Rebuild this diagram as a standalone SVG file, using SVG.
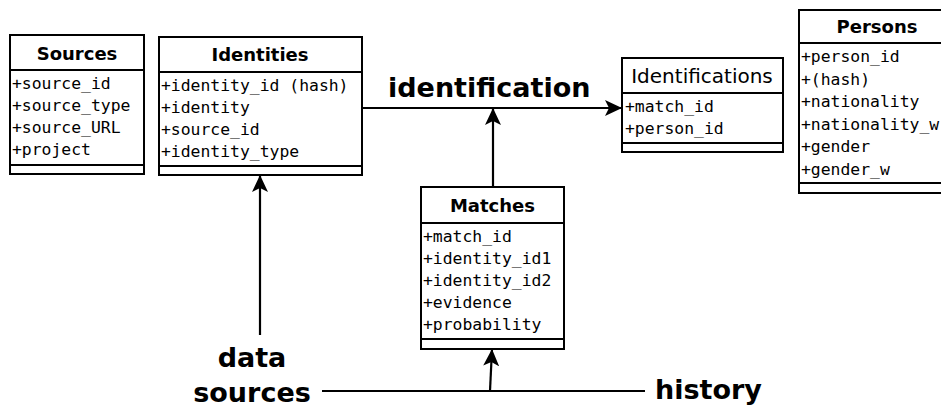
<svg xmlns="http://www.w3.org/2000/svg" width="941" height="408" viewBox="0 0 941 408">
<defs>
<style>
.box{fill:#fff;stroke:#000;stroke-width:2}
.sep{stroke:#000;stroke-width:2}
.t{font-family:"DejaVu Sans",sans-serif;font-size:18px;font-weight:bold;text-anchor:middle;fill:#000}
.tn{font-family:"DejaVu Sans",sans-serif;font-size:20px;text-anchor:middle;fill:#000}
.f{font-family:"DejaVu Sans Mono",monospace;font-size:16.4px;fill:#000}
.lbl{font-family:"DejaVu Sans",sans-serif;font-weight:bold;font-size:27px;fill:#000}
.c{stroke:#000;stroke-width:2.2;fill:none}
</style>
<marker id="ah" viewBox="0 0 18 18" refX="17" refY="9" markerWidth="18" markerHeight="18" markerUnits="userSpaceOnUse" orient="auto">
<path d="M17,9 L0,1 L4,9 L0,17 Z" fill="#000"/>
</marker>
</defs>
<g id="sources">
<rect class="box" x="10" y="35" width="134" height="139"/>
<line class="sep" x1="10" y1="70" x2="144" y2="70"/>
<line class="sep" x1="10" y1="165" x2="144" y2="165"/>
<text class="t" x="77" y="60">Sources</text>
<text class="f" x="12" y="89">+source_id</text>
<text class="f" x="12" y="111">+source_type</text>
<text class="f" x="12" y="133">+source_URL</text>
<text class="f" x="12" y="155">+project</text>
</g>
<g id="identities">
<rect class="box" x="159" y="37" width="203" height="138"/>
<line class="sep" x1="159" y1="72" x2="362" y2="72"/>
<line class="sep" x1="159" y1="166" x2="362" y2="166"/>
<text class="t" x="260" y="61">Identities</text>
<text class="f" x="161" y="91">+identity_id (hash)</text>
<text class="f" x="161" y="113">+identity</text>
<text class="f" x="161" y="135">+source_id</text>
<text class="f" x="161" y="157">+identity_type</text>
</g>
<g id="identifications">
<rect class="box" x="622" y="58" width="161" height="94"/>
<line class="sep" x1="622" y1="93" x2="783" y2="93"/>
<line class="sep" x1="622" y1="143" x2="783" y2="143"/>
<text class="tn" x="702" y="83">Identifications</text>
<text class="f" x="625" y="112">+match_id</text>
<text class="f" x="625" y="134">+person_id</text>
</g>
<g id="persons">
<rect class="box" x="799" y="10" width="160" height="183"/>
<line class="sep" x1="799" y1="43" x2="959" y2="43"/>
<line class="sep" x1="799" y1="183" x2="959" y2="183"/>
<text class="t" x="877" y="33">Persons</text>
<text class="f" x="801" y="62">+person_id</text>
<text class="f" x="801" y="84.5">+(hash)</text>
<text class="f" x="801" y="107">+nationality</text>
<text class="f" x="801" y="129.5">+nationality_w</text>
<text class="f" x="801" y="152">+gender</text>
<text class="f" x="801" y="174.5">+gender_w</text>
</g>
<g id="matches">
<rect class="box" x="421" y="187" width="143" height="162"/>
<line class="sep" x1="421" y1="223" x2="564" y2="223"/>
<line class="sep" x1="421" y1="339" x2="564" y2="339"/>
<text class="t" x="492.5" y="212">Matches</text>
<text class="f" x="423" y="242">+match_id</text>
<text class="f" x="423" y="264">+identity_id1</text>
<text class="f" x="423" y="286">+identity_id2</text>
<text class="f" x="423" y="308">+evidence</text>
<text class="f" x="423" y="330">+probability</text>
</g>
<g id="connectors">
<line class="c" x1="362" y1="108" x2="622" y2="108" marker-end="url(#ah)"/>
<line class="c" x1="493" y1="187" x2="493" y2="108" marker-end="url(#ah)"/>
<line class="c" x1="260" y1="335" x2="260" y2="175" marker-end="url(#ah)"/>
<line class="c" x1="322" y1="391" x2="645" y2="391"/>
<line class="c" x1="490" y1="391" x2="492" y2="349" marker-end="url(#ah)"/>
</g>
<g id="labels">
<text class="lbl" x="388" y="97">identification</text>
<text class="lbl" x="252" y="367" text-anchor="middle">data</text>
<text class="lbl" x="252" y="402" text-anchor="middle">sources</text>
<text class="lbl" x="655" y="399">history</text>
</g>
</svg>
